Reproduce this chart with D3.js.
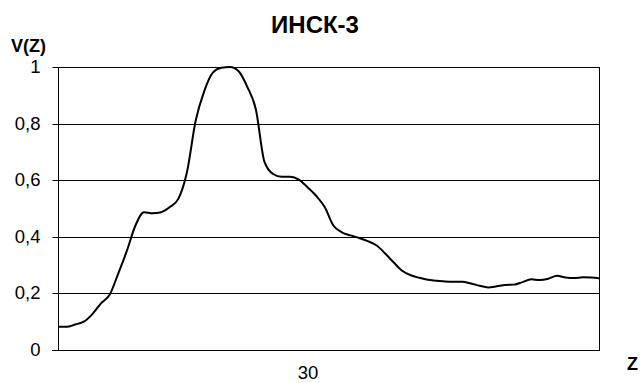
<!DOCTYPE html>
<html lang="ru">
<head>
  <meta charset="UTF-8">
  <title>ИНСК-3</title>
  <script src="https://d3js.org/d3.v7.min.js"></script>
  <style>
    html, body { margin: 0; padding: 0; background: #fff; }
    svg { display: block; font-family: 'Liberation Sans', Arial, sans-serif; }
  </style>
</head>
<body>
  <div class="chart"></div>
  <script>
    // Z index (1..64) and V(Z)
    const zValues = d3.range(1, 65);
    const vValues = [
      0.082, 0.082, 0.09, 0.10, 0.127, 0.165, 0.195, 0.27, 0.35, 0.44,
      0.487, 0.483, 0.487, 0.505, 0.535, 0.63, 0.81, 0.915, 0.98, 0.997,
      1.0, 0.985, 0.93, 0.85, 0.665, 0.622, 0.612, 0.612, 0.602, 0.575,
      0.545, 0.505, 0.44, 0.416, 0.405, 0.396, 0.385, 0.37, 0.342, 0.31,
      0.28, 0.264, 0.255, 0.248, 0.245, 0.242, 0.241, 0.241, 0.235, 0.227,
      0.221, 0.225, 0.23, 0.231, 0.24, 0.25, 0.247, 0.252, 0.262, 0.256,
      0.254, 0.257, 0.256, 0.253
    ];
    const yTicks = [0, 0.2, 0.4, 0.6, 0.8, 1];
    const xTicks = [30];

    const W = 641, H = 383;
    const m = { left: 58, right: 600, top: 67, bottom: 350 };

    const svg = d3.select('.chart').append('svg')
      .attr('width', W).attr('height', H);

    const x = d3.scaleLinear().domain([1, 64]).range([m.left, m.right]);
    const y = d3.scaleLinear().domain([0, 1]).range([m.bottom, m.top]);

    // gridlines
    svg.append('g').selectAll('line').data(yTicks.filter(d => d > 0)).join('line')
      .attr('x1', m.left).attr('x2', m.right)
      .attr('y1', d => Math.round(y(d)) + 0.5).attr('y2', d => Math.round(y(d)) + 0.5)
      .attr('stroke', '#000').attr('stroke-width', 1);

    // right border
    svg.append('line')
      .attr('x1', m.right - 0.5).attr('x2', m.right - 0.5)
      .attr('y1', Math.round(y(1)) + 0.5).attr('y2', m.bottom + 0.5)
      .attr('stroke', '#000');

    // y axis
    const yAxis = d3.axisLeft(y).tickValues(yTicks).tickSize(6).tickPadding(12)
      .tickFormat(d => d3.format('.1f')(d).replace('.', ',').replace(/,0$/, ''));
    const gy = svg.append('g').attr('transform', `translate(${m.left + 0.5},0)`).call(yAxis);
    gy.select('.domain').attr('d', `M0,${Math.round(y(1)) + 0.5}V${m.bottom + 0.5}`);
    gy.selectAll('.tick').attr('transform', d => `translate(0,${Math.round(y(d)) + 0.5})`);
    gy.selectAll('text').attr('font-size', 18.5).attr('fill', '#000')
      .attr('font-family', 'Liberation Sans, Arial, sans-serif');

    // x axis
    const xAxis = d3.axisBottom(x).tickValues(xTicks).tickSize(0).tickPadding(15)
      .tickFormat(d3.format('d'));
    const gx = svg.append('g').attr('transform', `translate(0,${m.bottom + 0.5})`).call(xAxis);
    gx.select('.domain').attr('d', `M${m.left - 6},0H${m.right}`);
    gx.selectAll('text').attr('font-size', 18.5).attr('fill', '#000')
      .attr('font-family', 'Liberation Sans, Arial, sans-serif');

    // data line
    const data = zValues.map((z, i) => ({ z, v: vValues[i] }));
    const line = d3.line().x(d => x(d.z)).y(d => y(d.v)).curve(d3.curveMonotoneX);
    svg.append('path').datum(data).attr('d', line)
      .attr('fill', 'none').attr('stroke', '#000').attr('stroke-width', 2);

    // title and axis labels
    svg.append('text').attr('x', 315).attr('y', 33).attr('text-anchor', 'middle')
      .attr('font-size', 24).attr('font-weight', 'bold').text('ИНСК-3');
    svg.append('text').attr('x', 11).attr('y', 52)
      .attr('font-size', 18).attr('font-weight', 'bold').text('V(Z)');
    svg.append('text').attr('x', 627).attr('y', 370)
      .attr('font-size', 18).attr('font-weight', 'bold').text('Z');
  </script>
</body>
</html>
